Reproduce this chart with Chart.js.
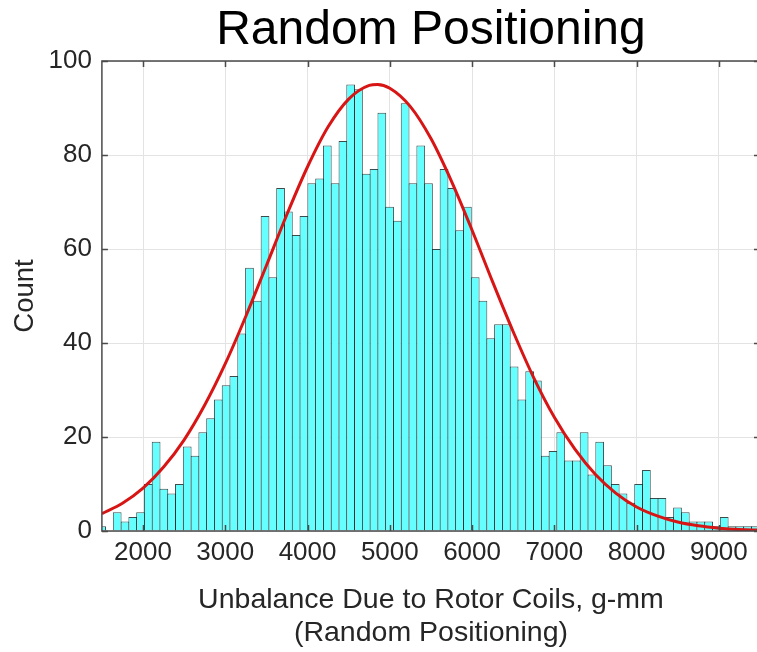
<!DOCTYPE html>
<html>
<head>
<meta charset="utf-8">
<script src="https://cdn.jsdelivr.net/npm/chart.js@4.4.1/dist/chart.umd.min.js"></script>
<style>
  html, body { margin: 0; padding: 0; background: #fff; overflow: hidden; width: 757px; height: 652px; }
  canvas { display: block; }
</style>
</head>
<body>
<canvas id="chart" width="762" height="652"></canvas>
<script>
// histogram bin centres (g-mm) and counts
const binCenters = [
  1497, 1592, 1686, 1781, 1875, 1970, 2064, 2159, 2253, 2348,
  2442, 2537, 2632, 2726, 2821, 2915, 3010, 3104, 3199, 3294,
  3389, 3483, 3578, 3672, 3767, 3861, 3956, 4051, 4146, 4240,
  4335, 4430, 4524, 4619, 4713, 4808, 4903, 4997, 5092, 5186,
  5281, 5376, 5470, 5565, 5659, 5754, 5848, 5943, 6038, 6132,
  6227, 6321, 6416, 6511, 6605, 6700, 6794, 6889, 6984, 7078,
  7173, 7267, 7362, 7457, 7551, 7646, 7740, 7835, 7930, 8024,
  8119, 8213, 8308, 8403, 8497, 8592, 8686, 8781, 8876, 8970,
  9065, 9159, 9254, 9349, 9443
];
const counts = [
  1, 0, 4, 2, 3, 4, 10, 19, 9, 8,
  10, 18, 16, 21, 24, 28, 31, 33, 42, 56,
  49, 67, 54, 73, 68, 63, 67, 74, 75, 82,
  74, 83, 95, 94, 76, 77, 89, 69, 66, 91,
  74, 82, 74, 60, 77, 73, 64, 69, 54, 49,
  41, 44, 44, 35, 28, 34, 32, 16, 17, 21,
  15, 15, 21, 12, 19, 14, 10, 8, 6, 10,
  13, 7, 7, 3, 5, 4, 2, 2, 2, 1,
  3, 1, 1, 1, 1
];

// fitted curve, read at points along the red line
const curveX = [1500, 1750, 2000, 2250, 2500, 2750, 3000, 3250, 3500, 3750, 4000, 4250, 4500, 4750, 4850,
  5000, 5250, 5500, 5750, 6000, 6250, 6500, 6750, 7000, 7250, 7500, 7750, 8000, 8250, 8500, 8750, 9000, 9250, 9500];
const curveY = [3.7, 5.9, 9.1, 13.6, 19.4, 26.8, 35.6, 45.7, 56.5, 67.4, 77.5, 86.0, 91.9, 94.8, 95.0,
  94.2, 90.3, 83.5, 74.4, 64.0, 53.0, 42.4, 32.6, 24.2, 17.4, 12.0, 8.0, 5.1, 3.2, 1.9, 1.1, 0.6, 0.3, 0.2];

const xTicks = [2000, 3000, 4000, 5000, 6000, 7000, 8000, 9000];
const yTicks = [0, 20, 40, 60, 80, 100];

const FONT = "'Liberation Sans', Arial, Helvetica, sans-serif";
const axisColor = '#4a4a4a';

// box round the axes with inward tick marks, MATLAB style
const framePlugin = {
  id: 'frame',
  afterDatasetsDraw(chart) {
    const { ctx, chartArea: a, scales: { x, y } } = chart;
    ctx.save();
    ctx.strokeStyle = axisColor;
    ctx.lineWidth = 1.5;
    ctx.strokeRect(a.left, a.top, a.right - a.left, a.bottom - a.top);
    ctx.beginPath();
    x.ticks.forEach(t => {
      const px = Math.round(x.getPixelForValue(t.value)) + 0.5;
      ctx.moveTo(px, a.bottom); ctx.lineTo(px, a.bottom - 6);
      ctx.moveTo(px, a.top); ctx.lineTo(px, a.top + 6);
    });
    y.ticks.forEach(t => {
      const py = Math.round(y.getPixelForValue(t.value)) + 0.5;
      ctx.moveTo(a.left, py); ctx.lineTo(a.left + 6, py);
      ctx.moveTo(a.right, py); ctx.lineTo(a.right - 6, py);
    });
    ctx.stroke();
    ctx.restore();
  }
};

new Chart(document.getElementById('chart'), {
  type: 'bar',
  data: {
    datasets: [
      {
        type: 'line',
        data: curveX.map((v, i) => ({ x: v, y: curveY[i] })),
        borderColor: '#d81515',
        borderWidth: 3,
        pointRadius: 0,
        cubicInterpolationMode: 'monotone',
        order: 0
      },
      {
        type: 'bar',
        data: binCenters.map((v, i) => ({ x: v, y: counts[i] })),
        backgroundColor: 'rgb(102, 255, 255)',
        borderColor: 'rgba(25, 45, 45, 0.85)',
        borderWidth: 1,
        barPercentage: 1.13,
        categoryPercentage: 1,
        order: 1
      }
    ]
  },
  options: {
    responsive: false,
    animation: false,
    layout: { padding: { left: 0, right: 2, top: 0, bottom: 2.5 } },
    plugins: {
      legend: { display: false },
      tooltip: { enabled: false },
      title: {
        display: true,
        text: 'Random Positioning',
        fullSize: false,
        color: '#000',
        font: { family: FONT, size: 48, weight: 'normal', lineHeight: 1 },
        padding: { top: 6.5, bottom: 6.5 }
      }
    },
    scales: {
      x: {
        type: 'linear',
        offset: false,
        min: 1500,
        max: 9500,
        afterBuildTicks: s => { s.ticks = xTicks.map(v => ({ value: v })); },
        afterFit: s => { s.height = 118.5; },
        ticks: {
          color: '#262626',
          font: { family: FONT, size: 26 },
          padding: 6,
          maxRotation: 0,
          autoSkip: false,
          callback: v => String(v)
        },
        grid: { color: '#e3e3e3', lineWidth: 1, drawTicks: false, offset: false },
        border: { display: false },
        title: {
          display: true,
          text: ['Unbalance Due to Rotor Coils, g-mm', '(Random Positioning)'],
          color: '#262626',
          font: { family: FONT, size: 28.5, lineHeight: 1.16 },
          padding: { top: 0, bottom: 0 }
        }
      },
      y: {
        min: 0,
        max: 100,
        afterBuildTicks: s => { s.ticks = yTicks.map(v => ({ value: v })); },
        afterFit: s => { s.width = 101.9; },
        ticks: {
          color: '#262626',
          font: { family: FONT, size: 26 },
          padding: 10
        },
        grid: { color: '#e3e3e3', lineWidth: 1, drawTicks: false },
        border: { display: false },
        title: {
          display: true,
          text: 'Count',
          color: '#262626',
          font: { family: FONT, size: 27.5, lineHeight: 1.2 },
          padding: { top: 9, bottom: 0 }
        }
      }
    }
  },
  plugins: [framePlugin]
});
</script>
</body>
</html>
